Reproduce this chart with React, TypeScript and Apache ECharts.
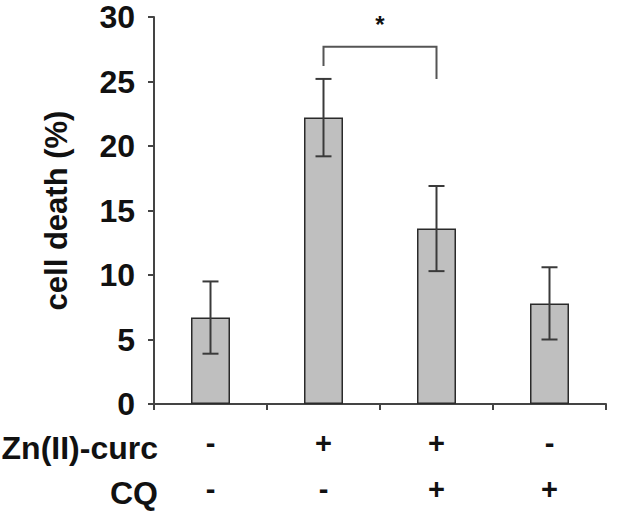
import React, { useEffect, useRef } from "react";
import * as echarts from "echarts";

const znCurc = ["-", "+", "+", "-"];
const cq = ["-", "-", "+", "+"];
const meanValues = [6.7, 22.2, 13.6, 7.8];
const errValues = [2.8, 3.0, 3.3, 2.8];
const yTicks = [0, 5, 10, 15, 20, 25, 30];
// significance bracket: [fromIndex, toIndex, barY, leftLegEnd, rightLegEnd]
const bracket = [1, 2, 27.7, 26.2, 25.2];
const bracketLabel = "*";
const starY = 29.4;

const FONT = "'Liberation Sans', Arial, Helvetica, sans-serif";

export default function App() {
  const ref = useRef<HTMLDivElement>(null);
  useEffect(() => {
    if (!ref.current) return;
    const chart = echarts.init(ref.current, undefined, { renderer: "svg" });
    const categories = znCurc.map((z, i) => z + "\n" + cq[i]);
    const errData = meanValues.map((m, i) => [i, m - errValues[i], m + errValues[i]]);
    chart.setOption({
      animation: false,
      grid: { left: 154, right: 18, top: 17, bottom: 112 },
      xAxis: {
        type: "category",
        data: categories,
        boundaryGap: true,
        axisLine: { show: true, lineStyle: { color: "#444", width: 2 } },
        axisTick: { show: true, length: 6, lineStyle: { color: "#444", width: 2 } },
        axisLabel: {
          margin: 16,
          fontFamily: FONT,
          fontWeight: "bold",
          fontSize: 29,
          color: "#111",
          lineHeight: 46,
          interval: 0,
        },
      },
      yAxis: {
        type: "value",
        min: yTicks[0],
        max: yTicks[yTicks.length - 1],
        interval: 5,
        name: "cell death (%)",
        nameLocation: "middle",
        nameRotate: 90,
        nameGap: 82,
        nameTextStyle: { fontFamily: FONT, fontWeight: "bold", fontSize: 31, color: "#111" },
        splitLine: { show: false },
        axisLine: { show: true, lineStyle: { color: "#444", width: 2 } },
        axisTick: { show: true, length: 6, lineStyle: { color: "#444", width: 2 } },
        axisLabel: {
          margin: 19,
          fontFamily: FONT,
          fontWeight: "bold",
          fontSize: 32,
          color: "#111",
        },
      },
      series: [
        {
          type: "bar",
          data: meanValues,
          barWidth: 39,
          itemStyle: { color: "#bfbfbf", borderColor: "#2a2a2a", borderWidth: 1.5 },
        },
        {
          type: "custom",
          data: errData,
          z: 5,
          renderItem: (params: any, api: any) => {
            const x = api.value(0);
            const lo = api.coord([x, api.value(1)]);
            const hi = api.coord([x, api.value(2)]);
            const hw = 8;
            const style = { stroke: "#3a3a3a", lineWidth: 2 };
            return {
              type: "group",
              children: [
                { type: "line", shape: { x1: hi[0], y1: hi[1], x2: lo[0], y2: lo[1] }, style },
                { type: "line", shape: { x1: hi[0] - hw, y1: hi[1], x2: hi[0] + hw, y2: hi[1] }, style },
                { type: "line", shape: { x1: lo[0] - hw, y1: lo[1], x2: lo[0] + hw, y2: lo[1] }, style },
              ],
            };
          },
        },
        {
          type: "custom",
          data: [bracket],
          z: 5,
          renderItem: (params: any, api: any) => {
            const a = api.coord([api.value(0), api.value(2)]);
            const b = api.coord([api.value(1), api.value(2)]);
            const aEnd = api.coord([api.value(0), api.value(3)]);
            const bEnd = api.coord([api.value(1), api.value(4)]);
            const sy = api.coord([api.value(0), starY])[1];
            const style = { stroke: "#555", lineWidth: 2, fill: null };
            return {
              type: "group",
              children: [
                {
                  type: "polyline",
                  shape: { points: [[aEnd[0], aEnd[1]], [a[0], a[1]], [b[0], b[1]], [bEnd[0], bEnd[1]]] },
                  style,
                },
                {
                  type: "text",
                  x: (a[0] + b[0]) / 2,
                  y: sy,
                  style: {
                    text: bracketLabel,
                    fontFamily: FONT,
                    fontWeight: "bold",
                    fontSize: 24,
                    fill: "#111",
                    align: "center",
                    verticalAlign: "middle",
                  },
                },
              ],
            };
          },
        },
      ],
      graphic: [
        {
          type: "text",
          right: 624 - 158,
          top: 432,
          style: { text: "Zn(II)-curc", fontFamily: FONT, fontWeight: "bold", fontSize: 32, fill: "#111" },
        },
        {
          type: "text",
          right: 624 - 158,
          top: 477,
          style: { text: "CQ", fontFamily: FONT, fontWeight: "bold", fontSize: 32, fill: "#111" },
        },
      ],
    });
    return () => chart.dispose();
  }, []);
  return <div ref={ref} style={{ width: 624, height: 516, position: "absolute", left: 0, top: 0 }} />;
}
